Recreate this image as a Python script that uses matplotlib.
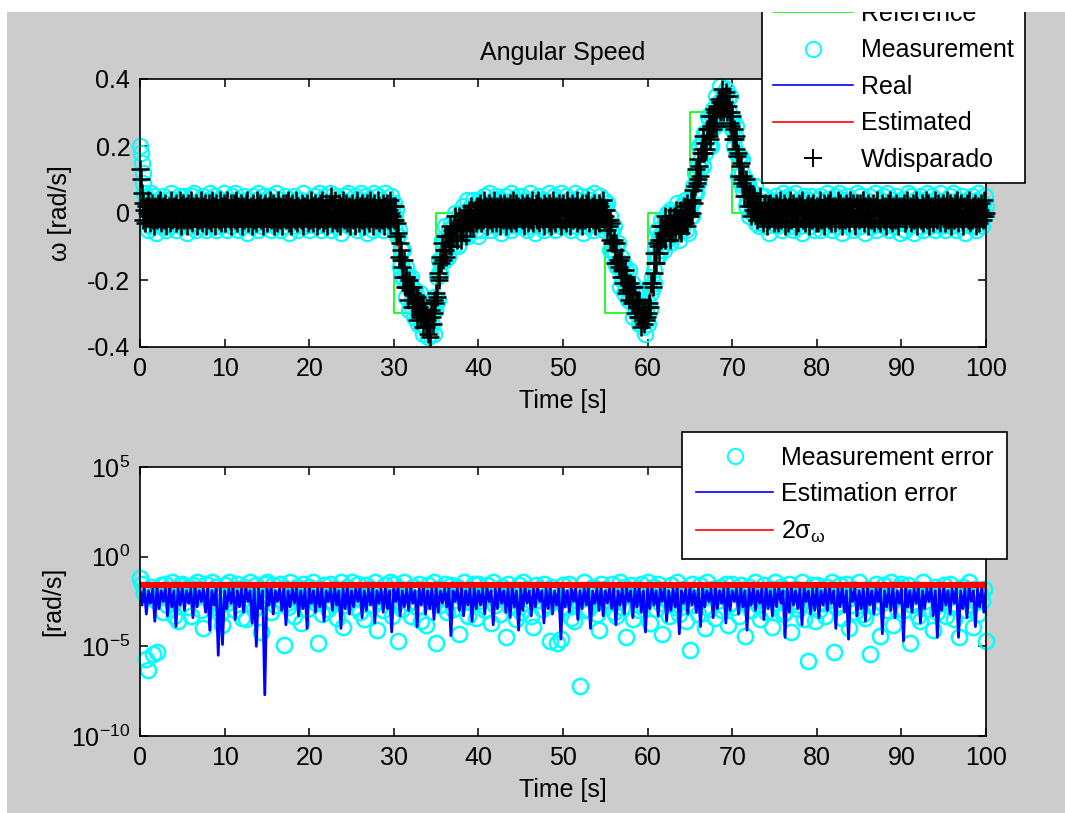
import numpy as np
import matplotlib
matplotlib.use('Agg')
import matplotlib.pyplot as plt
from matplotlib.patches import Rectangle
from matplotlib.ticker import FixedLocator, NullLocator, LogFormatterSciNotation

plt.rcParams['font.family'] = ['Liberation Sans', 'DejaVu Sans']
plt.rcParams['mathtext.fontset'] = 'custom'
plt.rcParams['mathtext.rm'] = 'Liberation Sans'
plt.rcParams['mathtext.it'] = 'Liberation Sans:italic'
plt.rcParams['mathtext.bf'] = 'Liberation Sans:bold'
plt.rcParams['axes.unicode_minus'] = False

# ---------------- data ----------------
ref_time = [0, 30, 35, 55, 60, 65, 70, 100]
ref_speed = [0.0, -0.3, 0.0, -0.3, 0.0, 0.3, 0.0, 0.0]

# real angular speed [rad/s], every 0.5 s
real_speed = [
    0.00, 0.01, 0.01, 0.00, 0.00, -0.01, 0.00, 0.01, 0.00, 0.00,
    0.00, 0.01, 0.01, 0.00, -0.01, 0.00, 0.00, 0.00, 0.01, 0.00,
    0.00, -0.01, 0.00, 0.00, 0.01, 0.01, 0.00, 0.00, 0.00, -0.01,
    0.00, 0.00, 0.01, 0.00, 0.00, 0.00, -0.01, 0.00, 0.01, 0.01,
    0.00, 0.00, 0.00, 0.01, 0.01, 0.01, 0.00, 0.00, 0.01, 0.00,
    0.00, 0.00, -0.01, 0.00, 0.00, 0.01, 0.00, 0.00, 0.00, 0.00,
    0.00, -0.07, -0.16, -0.21, -0.24, -0.27, -0.29, -0.31, -0.33, -0.32,
    -0.25, -0.15, -0.10, -0.075, -0.06, -0.045, -0.035, -0.025, -0.02, -0.015,
    -0.01, -0.005, 0.00, 0.00, 0.01, 0.00, 0.00, 0.00, 0.01, 0.01,
    0.00, 0.00, 0.00, -0.01, 0.00, 0.00, 0.01, 0.00, 0.00, 0.00,
    0.00, 0.01, 0.00, 0.00, -0.01, 0.00, 0.00, 0.00, 0.01, 0.00,
    0.00, -0.05, -0.10, -0.14, -0.18, -0.21, -0.24, -0.27, -0.29, -0.31,
    -0.30, -0.22, -0.12, -0.07, -0.05, -0.04, -0.035, -0.03, -0.02, -0.01,
    0.00, 0.06, 0.13, 0.19, 0.23, 0.26, 0.29, 0.32, 0.33, 0.32,
    0.27, 0.19, 0.12, 0.07, 0.04, 0.02, 0.01, 0.005, 0.00, 0.00,
    0.00, 0.01, 0.00, 0.00, 0.00, -0.01, 0.00, 0.01, 0.00, 0.00,
    0.00, 0.00, 0.01, 0.00, -0.01, 0.00, 0.00, 0.01, 0.00, 0.00,
    0.01, 0.00, 0.00, 0.00, -0.01, 0.00, 0.00, 0.00, 0.01, 0.00,
    0.00, 0.00, 0.01, 0.01, 0.00, 0.00, -0.01, 0.00, 0.00, 0.01,
    0.00, 0.00, 0.00, 0.01, 0.00, 0.00, -0.01, 0.00, 0.00, 0.00,
    0.00,
]

# estimated angular speed [rad/s], every 1 s
estimated_speed = [
    0.02, 0.01, 0.00, 0.01, 0.00, 0.00, 0.01, 0.00, 0.00, 0.01,
    0.00, 0.00, 0.01, 0.00, 0.00, 0.00, 0.01, 0.00, 0.00, 0.00,
    0.00, 0.01, 0.01, 0.00, 0.01, 0.00, 0.00, 0.00, 0.00, 0.00,
    -0.01, -0.17, -0.24, -0.28, -0.32, -0.24, -0.09, -0.06, -0.03, -0.02,
    -0.01, 0.00, 0.00, 0.01, 0.00, 0.00, 0.00, 0.00, 0.01, 0.00,
    0.00, 0.00, 0.00, 0.00, 0.01, 0.00, -0.10, -0.18, -0.24, -0.29,
    -0.29, -0.13, -0.05, -0.04, -0.02, 0.00, 0.12, 0.22, 0.28, 0.33,
    0.26, 0.12, 0.04, 0.01, 0.00, 0.00, 0.00, 0.01, 0.00, 0.00,
    0.00, 0.01, 0.00, 0.00, 0.00, 0.00, 0.01, 0.00, 0.00, 0.00,
    0.00, 0.00, 0.01, 0.00, 0.00, 0.00, 0.00, 0.01, 0.00, 0.00,
    0.00,
]

# measured angular speed, in 0.01 rad/s, every 0.1 s (10 values per line = 1 s)
measured_cents = [
    20, 18, 15, 12, 9, 6, 3, -2, 4, -5,
    1, 3, -4, 6, -1, 2, -3, 5, 0, -6,
    3, -2, 4, 1, -4, 2, -1, 5, -3, 0,
    3, -5, 2, 4, -2, -4, 1, 6, -3, 2,
    -1, 4, -5, 0, 3, -2, 5, -3, 1, -4,
    2, -3, 5, -1, 0, 4, -6, 3, -2, 1,
    -4, 5, 2, -3, 6, -1, -5, 3, 0, 2,
    -2, 4, -4, 1, 5, -3, 2, -1, -5, 4,
    0, 3, -2, 6, -4, 1, -1, 2, -3, 5,
    -5, 2, 4, -2, 0, -4, 3, 1, -1, 6,
    -3, 1, 4, -5, 2, -1, 3, 0, -4, 5,
    1, -2, 6, -3, -1, 4, -5, 2, 0, 3,
    -4, 2, -1, 5, -3, 1, 4, -6, 2, -2,
    3, 0, -4, 5, 1, -3, 2, -1, 4, -5,
    6, -2, 0, 3, -4, 1, -3, 5, -1, 2,
    -1, 4, -3, 2, 5, -5, 0, 3, -2, 1,
    -4, 6, 2, -1, -3, 4, -5, 1, 3, -2,
    0, 5, -4, 2, -1, 3, -6, 1, 4, -3,
    2, -2, 5, 0, -4, 1, 3, -5, 2, -1,
    4, -3, 1, 6, -2, -4, 2, 0, -1, 3,
    -5, 2, 4, -1, 0, -3, 5, 1, -4, 3,
    -2, 6, -1, 2, -5, 4, 0, -3, 1, 5,
    -4, 2, -2, 3, 6, -1, -5, 1, 4, -3,
    0, 2, -4, 5, -1, 3, -2, 1, -6, 4,
    2, -3, 5, 0, -2, 1, 6, -4, 3, -1,
    1, -4, 3, -2, 5, 0, -5, 2, 4, -1,
    -3, 6, 1, -2, 3, -4, 2, 5, -6, 0,
    4, -1, -3, 2, 1, -5, 3, 6, -2, 0,
    -4, 5, -1, 2, -3, 4, 1, -5, 3, -2,
    6, 0, -4, 2, -1, 3, -3, 5, 1, -2,
    3, -5, -1, 1, -7, -7, -5, -16, -11, -15,
    -19, -11, -20, -18, -16, -25, -21, -19, -29, -21,
    -19, -26, -28, -24, -31, -23, -26, -30, -25, -33,
    -29, -24, -33, -28, -32, -36, -27, -31, -34, -27,
    -37, -30, -33, -36, -27, -33, -29, -36, -25, -29,
    -27, -19, -26, -18, -14, -18, -14, -8, -13, -9,
    -14, -4, -11, -8, -13, -5, -7, -10, -3, -7,
    -4, -10, 0, -5, -7, -2, -10, -3, 0, -7,
    -2, -4, 2, -7, -3, 0, -4, 4, -7, -1,
    -5, 2, -2, -4, 4, -2, 1, -5, 2, -7,
    4, -2, 1, -5, 3, 0, -3, 5, 2, -1,
    -4, 3, 6, -2, 0, -5, 2, 4, -3, 1,
    -1, 5, -4, 2, -2, 3, 0, -6, 4, 1,
    -3, 2, 5, -1, -4, 0, 3, -2, 6, -5,
    1, 4, -3, 0, 2, -1, -4, 5, -2, 3,
    -2, 5, 0, -3, 4, -1, 2, -5, 3, 1,
    -4, 6, -2, 0, 3, -3, 1, -6, 4, 2,
    5, -1, -4, 2, 0, 3, -2, 4, -5, 1,
    -1, 3, -3, 6, 2, -4, 0, 1, -2, 5,
    -5, 2, 4, -1, -3, 3, 0, -4, 6, -2,
    3, -1, -4, 2, 5, -3, 0, 4, -2, 1,
    -5, 3, 1, -2, 6, -4, 2, 0, -1, 4,
    -3, 5, -2, 1, -6, 3, 0, 2, -4, 5,
    1, -3, 4, -1, 2, -5, 3, 6, -2, 0,
    -4, 1, 3, -3, 5, -1, 2, -2, 4, -5,
    2, -4, 3, -4, -4, -1, -11, -6, -5, -11,
    -4, -15, -12, -10, -16, -9, -16, -22, -13, -16,
    -20, -15, -24, -20, -17, -22, -20, -26, -17, -26,
    -23, -27, -21, -31, -26, -24, -30, -26, -23, -30,
    -33, -29, -32, -24, -34, -31, -27, -36, -29, -32,
    -33, -27, -22, -29, -24, -19, -22, -17, -21, -10,
    -13, -5, -13, -7, -8, -11, -2, -8, -5, -11,
    -2, -5, -8, 0, -5, -2, -9, 1, -3, -6,
    0, -7, -3, 0, -5, 3, -4, -8, 0, -1,
    -5, 2, -4, -1, 4, -5, 0, 2, -6, 2,
    4, -1, 3, -1, 8, 6, 12, 6, 9, 14,
    9, 20, 13, 16, 21, 14, 21, 24, 18, 24,
    22, 29, 20, 28, 25, 20, 29, 31, 26, 29,
    26, 35, 30, 27, 33, 31, 38, 29, 34, 28,
    36, 33, 31, 37, 28, 34, 30, 35, 26, 28,
    25, 28, 20, 23, 26, 18, 18, 11, 17, 17,
    9, 12, 16, 7, 8, 10, 2, 8, 4, 9,
    -1, 5, 3, 0, 6, 3, 0, 8, -3, 1,
    4, 0, -4, 3, 5, -3, 1, -2, 5, 0,
    -4, 3, -1, 2, -6, 4, 1, -3, 2, -1,
    3, -2, 5, -4, 1, 0, -3, 4, 2, -5,
    6, -1, -3, 2, 4, -2, 0, 5, -4, 1,
    -2, 3, -5, 1, 6, -3, 2, 0, -1, 4,
    -4, 2, 3, -6, 1, 5, -2, -1, 4, -3,
    0, 2, -4, 5, 1, -2, 3, -5, 2, 0,
    -3, 4, 1, -2, 5, -5, 0, 3, -1, 2,
    4, -4, 6, -2, 1, -3, 2, 0, -5, 3,
    -1, 5, -2, 1, -4, 3, 6, -3, 0, 2,
    -6, 1, 4, -1, 3, -2, 5, 0, -4, 2,
    1, -3, 4, -5, 2, 0, -2, 6, -1, 3,
    -2, 5, -4, 0, 3, -1, 2, -6, 4, 1,
    -3, 2, 5, -2, 0, -4, 3, 1, -1, 6,
    -5, 3, 0, 2, -3, 4, -2, 1, 5, -4,
    2, -1, -3, 6, 0, -5, 3, 2, -2, 4,
    -4, 1, 3, -1, 5, -3, 0, 2, -6, 1,
    4, -3, 1, 2, -5, 3, 0, -2, 6, -1,
    -4, 5, 2, -3, 1, -6, 4, 0, 3, -2,
    1, -1, 5, -4, 2, 3, -5, 0, 4, -2,
    6, -3, 1, -1, -4, 2, 5, -2, 0, 3,
    -5, 4, 1, -3, 2, -1, 6, -4, 0, 2,
    -1, 3, -5, 4, 0, 2, -3, 5, 1, -4,
    2, 6, -2, -1, 3, -5, 0, 4, -3, 1,
    -4, 2, 5, -2, 0, -6, 3, 1, 4, -3,
    2, -1, -4, 5, 1, -2, 3, 0, -5, 4,
    -2, 6, 1, -3, 2, -4, 0, 3, -1, 5,
    2,
]

# "Wdisparado" angular speed, in 0.01 rad/s, every 0.1 s
wdisparado_cents = [
    13, 10, 6, 3, -2, 1, -3, 2, 0, 4,
    -1, 2, -3, 1, 3, -2, 0, -4, 2, 1,
    -2, 3, 0, -1, 4, -3, 1, 2, -2, 0,
    3, -4, 1, -1, 2, 0, -3, 4, -2, 1,
    2, -1, -3, 3, 0, -2, 1, 4, -4, 2,
    -1, 3, -2, 0, 2, -4, 1, 3, -1, -2,
    4, 0, -3, 2, 1, -1, 3, -4, 0, 2,
    -2, 1, 4, -3, 0, 2, -1, 3, -4, 1,
    0, -2, 3, 1, -3, 4, -1, 0, 2, -4,
    3, -1, 1, -2, 4, 0, -3, 2, -1, 3,
    2, -3, 0, 4, -1, 1, -2, 3, -4, 0,
    1, 3, -2, -1, 4, -3, 2, 0, -1, 3,
    -4, 1, 2, -2, 0, 3, -1, 4, -3, 1,
    -1, 2, -4, 3, 0, -2, 1, -3, 4, 2,
    0, -1, 3, -2, 1, -4, 2, 0, 3, -1,
    -3, 2, 1, -1, 4, -2, 0, 3, -4, 1,
    2, -1, -3, 4, 0, 2, -2, 1, -4, 3,
    1, 0, -2, 3, -1, 4, -3, 2, 0, -4,
    3, 1, -1, -2, 4, 0, -3, 2, 1, -1,
    -2, 3, 0, -4, 2, 1, -1, 3, -3, 0,
    1, -2, 4, 0, -3, 2, -1, 3, 1, -4,
    2, 0, -2, 3, -1, 4, -3, 1, 0, -2,
    3, -4, 1, 2, -1, 0, 5, -3, 2, -1,
    -2, 4, 0, -3, 1, 3, -4, 2, -1, 0,
    4, -2, 1, -1, 3, -3, 0, 2, -4, 1,
    0, 3, -2, 1, -4, 2, 4, -1, 0, -3,
    2, 1, -2, 3, -1, -4, 2, 0, 3, -2,
    1, -3, 4, 0, -1, 2, -4, 3, 1, -2,
    -1, 4, -3, 2, 0, 1, -2, 3, -4, 0,
    2, -1, 3, -2, 1, -3, 4, 0, -1, 2,
    -2, 2, -2, -7, -3, -6, -13, -9, -14, -11,
    -16, -19, -14, -22, -19, -19, -22, -26, -20, -23,
    -22, -28, -24, -22, -28, -27, -28, -25, -32, -27,
    -28, -31, -27, -30, -34, -27, -32, -30, -34, -32,
    -36, -31, -33, -37, -29, -31, -33, -26, -30, -27,
    -24, -25, -18, -19, -20, -13, -15, -9, -14, -11,
    -7, -11, -13, -7, -7, -10, -7, -4, -10, -5,
    -7, -4, -1, -7, -5, -8, -3, -1, -5, -8,
    -2, -3, -5, 0, -2, -7, 0, -3, -2, 1,
    -4, 2, -3, -2, -4, 1, 0, -3, 2, -2,
    2, -1, 3, -3, 0, 1, -2, 4, -1, 2,
    -4, 0, 3, 1, -2, 2, -3, 0, 4, -1,
    1, -3, 2, 0, -1, 3, -4, 2, 1, -2,
    3, -1, 0, -4, 2, 1, -2, 3, 0, -3,
    -1, 4, -2, 1, 3, -3, 0, 2, -1, 1,
    0, -2, 3, 1, -4, 2, -1, 3, 0, -3,
    2, 1, -2, 4, -1, -3, 1, 0, 3, -2,
    -1, 4, -3, 2, 0, 1, -2, -4, 3, 1,
    2, -1, 0, 3, -3, 2, -4, 1, 4, -2,
    -3, 0, 2, -1, 1, 3, -2, 0, -4, 2,
    3, -2, 0, 1, -3, 4, -1, 2, -4, 0,
    1, 3, -2, -1, 2, 0, -3, 4, 1, -2,
    -1, 2, 3, -4, 0, 1, -2, 3, -1, 2,
    4, -3, 0, -1, 2, -2, 1, 3, -4, 0,
    -2, 1, 3, -3, 2, 0, -1, 4, -2, 1,
    -1, 1, -5, -2, -4, -2, -8, -3, -9, -9,
    -8, -15, -11, -9, -15, -14, -16, -14, -19, -13,
    -17, -21, -19, -17, -24, -19, -23, -21, -26, -21,
    -24, -22, -27, -27, -22, -30, -26, -28, -26, -31,
    -26, -31, -34, -28, -31, -30, -33, -28, -32, -31,
    -28, -30, -27, -28, -21, -21, -22, -18, -12, -15,
    -15, -9, -10, -8, -12, -4, -8, -4, -6, -7,
    -1, -8, -4, -4, -5, -2, -8, -1, -3, -6,
    -4, -1, -6, 1, -4, -3, -2, -5, 1, -6,
    0, -2, -3, 2, -3, 0, 3, -4, 0, -1,
    -1, 4, 0, 4, 7, 3, 8, 13, 9, 10,
    16, 14, 11, 18, 19, 18, 23, 18, 21, 19,
    25, 25, 23, 29, 22, 26, 29, 25, 31, 27,
    30, 26, 32, 31, 34, 30, 33, 31, 37, 30,
    33, 35, 32, 36, 30, 32, 35, 27, 30, 26,
    29, 22, 25, 22, 19, 23, 17, 18, 11, 14,
    15, 9, 10, 11, 5, 8, 10, 5, 5, 2,
    5, 6, -1, 5, 2, 1, 5, 0, 2, -2,
    3, 1, 0, 5, -1, 1, -3, 2, 0, 3,
    -1, -4, 2, 1, -2, 3, 0, -1, 2, -3,
    1, -2, 3, 0, -3, 2, -1, 4, -2, 1,
    0, 3, -4, 2, 1, -1, -3, 2, 4, 0,
    -2, 1, 3, -1, 0, -4, 2, 1, -3, 3,
    2, -1, 0, 4, -2, 1, -3, 0, 2, -1,
    3, -4, 1, 2, -2, 0, 3, -1, 1, -3,
    2, 0, -3, 1, 4, -2, 1, -1, 3, -4,
    0, 2, -1, 3, -2, 1, 4, -3, 0, 2,
    -1, -3, 2, 0, 1, 4, -2, 3, -1, 0,
    -4, 2, 1, -2, 3, 0, -1, 2, -3, 4,
    1, -1, 0, 3, -2, -4, 2, 1, 3, -1,
    -2, 3, 1, -1, 0, 4, -3, 2, -1, 1,
    3, -4, 0, 2, -2, 1, 3, -1, -3, 0,
    2, 4, -2, 1, -1, -3, 0, 3, 1, -2,
    -1, 2, -4, 0, 3, 1, -2, 4, -1, -3,
    2, 0, 1, -2, 3, -1, -4, 2, 0, 1,
    0, 2, -1, 3, -3, 1, -2, 4, 0, -1,
    2, -3, 1, 0, 3, -2, -1, 4, -4, 2,
    1, -1, 0, -2, 3, 2, -3, 1, -1, 4,
    -2, 0, 3, -4, 1, 2, -1, -3, 2, 0,
    4, -1, -2, 3, 0, 1, -3, 2, -1, 3,
    1, -3, 2, 0, 4, -2, -1, 3, 1, -4,
    2, 0, -2, 3, -1, 1, 4, -3, 0, 2,
    -1, 3, -2, -4, 2, 1, 0, -1, 3, -2,
    4, -3, 1, 0, -2, 2, -1, 3, -4, 1,
    0, 2, -3, 1, 3, -1, 0, -2, 4, -1,
    0,
]

# measurement error, log10(|error|) in tenths of a decade, every 0.25 s
measurement_error_dlog = [
    -12, -15, -20, -57, -63, -17, -54, -24, -53, -22, -16, -31, -15, -27, -19, -14, -33, -18, -36, -16,
    -15, -21, -28, -17, -33, -16, -23, -14, -18, -30, -40, -15, -19, -25, -14, -28, -17, -21, -32, -38,
    -16, -26, -14, -23, -18, -30, -15, -22, -34, -17, -35, -20, -14, -26, -29, -16, -19, -42, -24, -15,
    -14, -22, -31, -16, -27, -19, -15, -24, -49, -18, -28, -14, -21, -33, -17, -25, -37, -15, -20, -29,
    -17, -23, -14, -26, -48, -19, -32, -16, -21, -29, -15, -25, -18, -34, -23, -14, -39, -27, -17, -21,
    -14, -28, -20, -15, -31, -24, -35, -16, -22, -18, -27, -14, -41, -25, -19, -30, -16, -23, -14, -33,
    -15, -24, -47, -18, -29, -14, -21, -26, -33, -17, -19, -28, -15, -36, -22, -38, -16, -25, -20, -14,
    -48, -18, -27, -23, -15, -31, -20, -16, -29, -24, -17, -43, -21, -14, -25, -33, -18, -26, -15, -34,
    -15, -25, -19, -30, -16, -22, -37, -14, -27, -20, -32, -17, -23, -45, -15, -28, -19, -24, -35, -16,
    -31, -14, -26, -18, -21, -33, -39, -16, -24, -18, -29, -15, -22, -27, -47, -17, -20, -48, -25, -46,
    -16, -28, -23, -15, -34, -36, -19, -25, -72, -19, -14, -30, -29, -21, -17, -26, -32, -41, -15, -24,
    -18, -24, -26, -15, -31, -33, -20, -14, -28, -17, -45, -22, -16, -35, -23, -19, -30, -15, -27, -21,
    -14, -37, -22, -17, -29, -15, -26, -43, -19, -24, -33, -16, -21, -28, -14, -32, -25, -18, -36, -23,
    -52, -15, -27, -20, -32, -16, -23, -40, -14, -29, -21, -18, -34, -25, -17, -30, -22, -15, -38, -26,
    -15, -28, -19, -33, -16, -24, -44, -21, -17, -30, -24, -14, -27, -35, -20, -16, -31, -23, -18, -39,
    -14, -26, -23, -17, -32, -31, -19, -15, -42, -25, -18, -29, -27, -14, -35, -20, -58, -22, -16, -36,
    -16, -30, -21, -26, -33, -17, -24, -14, -53, -28, -19, -16, -34, -22, -15, -40, -27, -18, -31, -21,
    -14, -25, -32, -34, -18, -54, -22, -28, -15, -19, -44, -26, -16, -30, -23, -14, -38, -20, -29, -17,
    -15, -30, -24, -16, -48, -27, -22, -18, -33, -36, -14, -25, -29, -19, -21, -41, -17, -31, -20, -26,
    -16, -33, -23, -15, -28, -35, -19, -45, -22, -17, -30, -24, -14, -27, -39, -18, -32, -21, -25, -18,
    -47,
]

# estimation error, log10(|error|) in tenths of a decade, every 0.25 s
estimation_error_dlog = [
    -18, -27, -17, -32, -19, -26, -18, -36, -17, -29, -19, -25, -18, -33, -17, -28, -19, -39, -18, -27,
    -17, -30, -19, -26, -18, -34, -17, -28, -19, -25, -18, -31, -17, -41, -19, -27, -18, -55, -17, -49,
    -19, -29, -18, -26, -17, -35, -19, -28, -18, -31, -17, -25, -19, -37, -18, -50, -17, -29, -19, -77,
    -18, -27, -17, -32, -19, -25, -18, -30, -17, -38, -19, -28, -18, -26, -17, -33, -19, -29, -18, -40,
    -17, -26, -19, -31, -18, -28, -17, -36, -19, -25, -18, -30, -17, -27, -19, -40, -18, -29, -17, -32,
    -19, -28, -18, -25, -17, -34, -19, -30, -18, -27, -17, -37, -19, -26, -18, -31, -17, -29, -19, -42,
    -18, -25, -17, -33, -19, -28, -18, -30, -17, -26, -19, -39, -18, -27, -17, -32, -19, -29, -18, -35,
    -17, -31, -19, -26, -18, -28, -17, -44, -19, -25, -18, -30, -17, -33, -19, -27, -18, -36, -17, -29,
    -19, -27, -18, -32, -17, -25, -19, -38, -18, -29, -17, -26, -19, -31, -18, -34, -17, -28, -19, -41,
    -18, -30, -17, -26, -19, -33, -18, -28, -17, -25, -19, -37, -18, -29, -17, -32, -19, -27, -18, -46,
    -17, -28, -19, -31, -18, -25, -17, -35, -19, -29, -18, -27, -17, -40, -19, -26, -18, -30, -17, -33,
    -19, -26, -18, -29, -17, -38, -19, -27, -18, -32, -17, -25, -19, -34, -18, -28, -17, -31, -19, -42,
    -18, -29, -17, -27, -19, -33, -18, -25, -17, -36, -19, -30, -18, -28, -17, -43, -19, -26, -18, -32,
    -17, -27, -19, -31, -18, -39, -17, -28, -19, -25, -18, -34, -17, -29, -19, -26, -18, -37, -17, -30,
    -19, -25, -18, -32, -17, -28, -19, -41, -18, -27, -17, -30, -19, -26, -18, -35, -17, -29, -19, -33,
    -18, -28, -17, -26, -19, -45, -18, -31, -17, -27, -19, -29, -18, -38, -17, -25, -19, -32, -18, -30,
    -17, -34, -19, -27, -18, -30, -17, -26, -19, -40, -18, -28, -17, -31, -19, -46, -18, -25, -17, -33,
    -19, -29, -18, -36, -17, -27, -19, -32, -18, -25, -17, -43, -19, -28, -18, -30, -17, -34, -19, -26,
    -18, -47, -17, -28, -19, -31, -18, -26, -17, -37, -19, -29, -18, -25, -17, -33, -19, -45, -18, -30,
    -17, -27, -19, -32, -18, -26, -17, -45, -19, -29, -18, -34, -17, -25, -19, -39, -18, -28, -17, -31,
    -18,
]

two_sigma_omega = 0.026
sigma_time = [0, 100]

x_ticks = [0, 10, 20, 30, 40, 50, 60, 70, 80, 90, 100]
y_ticks_top = [-0.4, -0.2, 0, 0.2, 0.4]
y_tick_labels_top = ['-0.4', '-0.2', '0', '0.2', '0.4']
y_ticks_bottom = [1e-10, 1e-5, 1e0, 1e5]

# unit conversions of the typed values
measured_speed = np.array(measured_cents) / 100.0
wdisparado_speed = np.array(wdisparado_cents) / 100.0
measurement_error = 10.0 ** (np.array(measurement_error_dlog) / 10.0)
estimation_error = 10.0 ** (np.array(estimation_error_dlog) / 10.0)

# ---------------- figure ----------------
W, H = 1065, 813
fig = plt.figure(figsize=(W / 100, H / 100), dpi=100, facecolor='white')
fig.patches.append(Rectangle((7 / W, 0), 1, 1 - 12 / H, transform=fig.transFigure,
                             facecolor='#cccccc', edgecolor='none', zorder=-10))

FS = 18
GREEN, CYAN, BLUE, RED = '#00ff00', '#00ffff', '#0000ff', '#ff0000'


def style_axes(ax):
    for s in ax.spines.values():
        s.set_linewidth(1.2)
        s.set_color('black')
    ax.tick_params(direction='in', top=True, right=True, length=6, width=1.1,
                   labelsize=FS, colors='black')
    ax.tick_params(axis='x', pad=7)
    ax.tick_params(axis='y', pad=7)
    ax.set_facecolor('white')


# ---- top axes ----
ax1 = fig.add_axes([140 / W, 1 - 347 / H, 846 / W, 268 / H])
t_real = np.linspace(0, 100, len(real_speed))
t_est = np.linspace(0, 100, len(estimated_speed))
t_meas = np.linspace(0, 100, len(measured_speed))
t_wd = np.linspace(0, 100, len(wdisparado_speed))

ax1.plot(ref_time, ref_speed, color=GREEN, lw=1.2, drawstyle='steps-post', label='Reference')
ax1.plot(t_meas, measured_speed, 'o', mfc='none', mec=CYAN, ms=11, mew=1.5,
         clip_on=False, label='Measurement')
ax1.plot(t_real, real_speed, color=BLUE, lw=1.2, label='Real')
ax1.plot(t_est, estimated_speed, color=RED, lw=1.2, label='Estimated')
ax1.plot(t_wd, wdisparado_speed, '+', color='black', ms=13, mew=1.8,
         clip_on=False, label='Wdisparado')

ax1.set_xlim(0, 100)
ax1.set_ylim(-0.4, 0.4)
ax1.set_xticks(x_ticks)
ax1.set_yticks(y_ticks_top)
ax1.set_yticklabels(y_tick_labels_top)
style_axes(ax1)
ax1.set_title('Angular Speed', fontsize=FS, pad=14)
ax1.set_xlabel('Time [s]', fontsize=FS, labelpad=6)
ax1.set_ylabel('\u03c9 [rad/s]', fontsize=FS, labelpad=11)

leg1 = ax1.legend(loc='lower left', bbox_to_anchor=(762 / W, 1 - 183 / H),
                  bbox_transform=fig.transFigure, fontsize=FS, frameon=True,
                  fancybox=False, framealpha=1, edgecolor='black', numpoints=1,
                  handlelength=3.2, handletextpad=0.3, borderpad=0.45,
                  labelspacing=0.5, borderaxespad=0)
leg1.get_frame().set_linewidth(1.2)
for h in leg1.legend_handles:
    h.set_markeredgewidth(1.4)

# ---- bottom axes ----
ax2 = fig.add_axes([140 / W, 1 - 736 / H, 846 / W, 269 / H])
t_me = np.linspace(0, 100, len(measurement_error))
t_ee = np.linspace(0, 100, len(estimation_error))
ax2.plot(t_me, measurement_error, 'o', mfc='none', mec=CYAN,
         ms=11, mew=1.8, clip_on=False, label='Measurement error')
ax2.plot(t_ee, estimation_error, color=BLUE, lw=2.0, label='Estimation error')
ax2.plot(sigma_time, [two_sigma_omega] * len(sigma_time), color=RED, lw=4.5,
         label=r'2$\mathrm{\sigma}_{\mathrm{\omega}}$')
ax2.set_yscale('log')
ax2.set_xlim(0, 100)
ax2.set_ylim(1e-10, 1e5)
ax2.set_xticks(x_ticks)
ax2.yaxis.set_major_locator(FixedLocator(y_ticks_bottom))
ax2.yaxis.set_minor_locator(NullLocator())
ax2.yaxis.set_major_formatter(LogFormatterSciNotation())
style_axes(ax2)
ax2.set_xlabel('Time [s]', fontsize=FS, labelpad=6)
ax2.set_ylabel('[rad/s]', fontsize=FS, labelpad=4)

leg2 = ax2.legend(loc='upper left', bbox_to_anchor=(682 / W, 1 - 432 / H),
                  bbox_transform=fig.transFigure, fontsize=FS, frameon=True,
                  fancybox=False, framealpha=1, edgecolor='black', numpoints=1,
                  handlelength=3.1, handletextpad=0.3, borderpad=0.55,
                  labelspacing=0.5, borderaxespad=0)
leg2.get_frame().set_linewidth(1.2)
for h in leg2.legend_handles:
    h.set_linewidth(1.2)
    h.set_markeredgewidth(1.4)

# white strip along the top edge (screenshot border)
fig.patches.append(Rectangle((0, 1 - 12 / H), 1, 12 / H, transform=fig.transFigure,
                             facecolor='white', edgecolor='none', zorder=20))

fig.savefig('out.png', dpi=100, facecolor=fig.get_facecolor())
